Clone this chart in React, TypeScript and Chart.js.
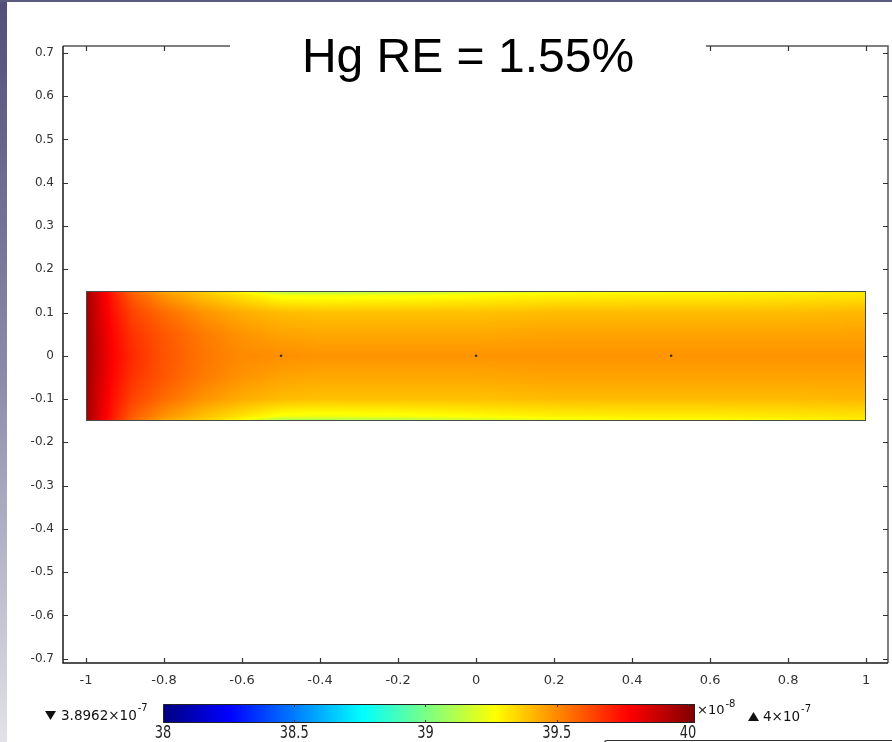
import React, { useEffect, useRef } from "react";
import { Chart, registerables } from "chart.js";

Chart.register(...registerables);

// ---------- data ----------
const titleText = "Hg RE = 1.55%";
const xTicks = [-1, -0.8, -0.6, -0.4, -0.2, 0, 0.2, 0.4, 0.6, 0.8, 1];
const yTicks = [0.7, 0.6, 0.5, 0.4, 0.3, 0.2, 0.1, 0, -0.1, -0.2, -0.3, -0.4, -0.5, -0.6, -0.7];
const xRange = [-1.059, 1.056];
const yRange = [-0.71, 0.716];

// domain rectangle
const rectX = [-1, 1];
const rectY = [-0.15, 0.15];

// sampled field (x 10^-8), rows top -> bottom
const fieldX = [-1, -0.97, -0.93, -0.88, -0.8, -0.7, -0.6, -0.5, -0.4, -0.2, 0, 0.2, 0.4, 0.6, 0.8, 1];
const fieldY = [0.15, 0.14, 0.1, 0.05, 0, -0.05, -0.1, -0.14, -0.15];
const rowP150 = [39.96, 39.84, 39.7, 39.56, 39.44, 39.36, 39.26, 39.08, 39.08, 39.1, 39.16, 39.22, 39.25, 39.26, 39.27, 39.3];
const rowP140 = [39.96, 39.85, 39.72, 39.59, 39.48, 39.39, 39.32, 39.25, 39.24, 39.25, 39.27, 39.29, 39.3, 39.3, 39.31, 39.32];
const rowP100 = [39.97, 39.86, 39.74, 39.64, 39.56, 39.48, 39.43, 39.4, 39.39, 39.39, 39.39, 39.4, 39.4, 39.4, 39.4, 39.41];
const rowP050 = [39.97, 39.87, 39.76, 39.67, 39.6, 39.53, 39.48, 39.45, 39.44, 39.44, 39.44, 39.45, 39.45, 39.45, 39.45, 39.45];
const rowZero = [39.97, 39.88, 39.77, 39.69, 39.61, 39.54, 39.5, 39.49, 39.48, 39.48, 39.48, 39.48, 39.48, 39.48, 39.48, 39.48];
const rowM050 = [39.97, 39.87, 39.76, 39.67, 39.6, 39.53, 39.48, 39.45, 39.44, 39.44, 39.44, 39.45, 39.45, 39.45, 39.45, 39.45];
const rowM100 = [39.97, 39.86, 39.74, 39.64, 39.56, 39.48, 39.43, 39.4, 39.39, 39.39, 39.39, 39.4, 39.4, 39.4, 39.4, 39.41];
const rowM140 = [39.96, 39.85, 39.72, 39.59, 39.48, 39.39, 39.32, 39.25, 39.24, 39.25, 39.27, 39.29, 39.3, 39.3, 39.31, 39.32];
const rowM150 = [39.96, 39.84, 39.7, 39.56, 39.44, 39.36, 39.26, 39.08, 39.08, 39.1, 39.16, 39.22, 39.25, 39.26, 39.27, 39.3];
const fieldRows = [rowP150, rowP140, rowP100, rowP050, rowZero, rowM050, rowM100, rowM140, rowM150];

// probe points
const pointsX = [-0.5, 0, 0.5];
const pointsY = [0, 0, 0];

// colour range
const colorMin = 38;
const colorMax = 40.027;
const colorbarTicks = [38, 38.5, 39, 39.5, 40];
const colorbarTickLabels = ["38", "38.5", "39", "39.5", "40"];
const minLabel = "3.8962\u00d710";
const minExp = "-7";
const maxLabel = "4\u00d710";
const maxExp = "-7";
const unitLabel = "\u00d710";
const unitExp = "-8";

// ---------- helpers ----------
function jet(t: number): [number, number, number] {
  const c = (v: number) => Math.max(0, Math.min(1, v));
  const r = c(1.5 - Math.abs(4 * t - 3));
  const g = c(1.5 - Math.abs(4 * t - 2));
  const b = c(1.5 - Math.abs(4 * t - 1));
  return [Math.round(r * 255), Math.round(g * 255), Math.round(b * 255)];
}

function findIdx(arr: number[], v: number, desc: boolean): [number, number] {
  const n = arr.length;
  for (let i = 0; i < n - 1; i++) {
    const a = arr[i], b = arr[i + 1];
    const inside = desc ? v <= a && v >= b : v >= a && v <= b;
    if (inside) return [i, (v - a) / (b - a)];
  }
  if (desc ? v > arr[0] : v < arr[0]) return [0, 0];
  return [n - 2, 1];
}

function sampleField(x: number, y: number): number {
  const [i, fx] = findIdx(fieldX, x, false);
  const [j, fy] = findIdx(fieldY, y, true);
  const r0 = fieldRows[j], r1 = fieldRows[j + 1];
  const a = r0[i] * (1 - fx) + r0[i + 1] * fx;
  const b = r1[i] * (1 - fx) + r1[i + 1] * fx;
  return a * (1 - fy) + b * fy;
}

const FONT = "'DejaVu Sans', Verdana, sans-serif";

const heatmapPlugin = {
  id: "heatmap",
  beforeDatasetsDraw(chart: any) {
    const { ctx } = chart;
    const xs = chart.scales.x, ys = chart.scales.y;
    const px0 = Math.round(xs.getPixelForValue(rectX[0]));
    const px1 = Math.round(xs.getPixelForValue(rectX[1]));
    const py0 = Math.round(ys.getPixelForValue(rectY[1]));
    const py1 = Math.round(ys.getPixelForValue(rectY[0]));
    const w = px1 - px0, h = py1 - py0;
    const off = document.createElement("canvas");
    off.width = w; off.height = h;
    const octx = off.getContext("2d")!;
    const img = octx.createImageData(w, h);
    for (let j = 0; j < h; j++) {
      const dy = ys.getValueForPixel(py0 + j + 0.5);
      for (let i = 0; i < w; i++) {
        const dx = xs.getValueForPixel(px0 + i + 0.5);
        const v = sampleField(dx, dy);
        const [r, g, b] = jet((v - colorMin) / (colorMax - colorMin));
        const k = (j * w + i) * 4;
        img.data[k] = r; img.data[k + 1] = g; img.data[k + 2] = b; img.data[k + 3] = 255;
      }
    }
    octx.putImageData(img, 0, 0);
    ctx.save();
    ctx.drawImage(off, px0, py0);
    ctx.strokeStyle = "#4a4a4a";
    ctx.lineWidth = 1;
    ctx.strokeRect(px0 + 0.5, py0 + 0.5, w - 1, h - 1);
    ctx.restore();
  },
};

function drawSup(ctx: CanvasRenderingContext2D, base: string, exp: string, x: number, y: number, size: number, supSize: number, rise: number) {
  ctx.font = `${size}px ${FONT}`;
  ctx.textAlign = "left";
  ctx.textBaseline = "alphabetic";
  ctx.fillText(base, x, y);
  const w = ctx.measureText(base).width;
  ctx.font = `${supSize}px ${FONT}`;
  ctx.fillText(exp, x + w + 1, y - rise);
}

const framePlugin = {
  id: "frame",
  afterDraw(chart: any) {
    const { ctx, chartArea } = chart;
    const xs = chart.scales.x, ys = chart.scales.y;
    const { left, right, top, bottom } = chartArea;
    ctx.save();
    ctx.lineWidth = 1.5;
    ctx.strokeStyle = "#555";
    ctx.beginPath();
    ctx.moveTo(left, top); ctx.lineTo(right, top); ctx.lineTo(right, bottom);
    ctx.stroke();
    ctx.strokeStyle = "#1a1a1a";
    ctx.beginPath();
    ctx.moveTo(left, top); ctx.lineTo(left, bottom); ctx.lineTo(right, bottom);
    ctx.stroke();
    ctx.lineWidth = 1.2;
    ctx.strokeStyle = "#333";
    const tl = 5;
    xTicks.forEach((v) => {
      const p = Math.round(xs.getPixelForValue(v)) + 0.5;
      ctx.beginPath();
      ctx.moveTo(p, bottom); ctx.lineTo(p, bottom - tl);
      ctx.moveTo(p, top); ctx.lineTo(p, top + tl);
      ctx.stroke();
    });
    yTicks.forEach((v) => {
      const p = Math.round(ys.getPixelForValue(v)) + 0.5;
      ctx.beginPath();
      ctx.moveTo(left, p); ctx.lineTo(left + tl, p);
      ctx.moveTo(right, p); ctx.lineTo(right - tl, p);
      ctx.stroke();
    });
    // title box
    ctx.fillStyle = "#fff";
    ctx.fillRect(230, top - 6, 476, 14);
    ctx.fillStyle = "#000";
    ctx.font = "48px 'Liberation Sans', Arial, sans-serif";
    ctx.textAlign = "center";
    ctx.textBaseline = "alphabetic";
    ctx.fillText(titleText, 468, 72);

    // colorbar
    const cbL = 163, cbR = 695, cbT = 704, cbB = 723;
    const cbPx = (v: number) => cbL + ((v - colorMin) / (colorMax - colorMin)) * (cbR - cbL);
    for (let i = cbL; i < cbR; i++) {
      const t = (i + 0.5 - cbL) / (cbR - cbL);
      const [r, g, b] = jet(t);
      ctx.fillStyle = `rgb(${r},${g},${b})`;
      ctx.fillRect(i, cbT, 1, cbB - cbT);
    }
    ctx.strokeStyle = "#222";
    ctx.lineWidth = 1;
    ctx.strokeRect(cbL + 0.5, cbT + 0.5, cbR - cbL - 1, cbB - cbT - 1);
    ctx.strokeStyle = "#333";
    colorbarTicks.forEach((v) => {
      const p = Math.round(cbPx(v)) + 0.5;
      ctx.beginPath();
      ctx.moveTo(p, cbT); ctx.lineTo(p, cbT + 3);
      ctx.moveTo(p, cbB); ctx.lineTo(p, cbB - 3);
      ctx.stroke();
    });
    ctx.fillStyle = "#222";
    ctx.font = `13px ${FONT}`;
    ctx.textAlign = "center";
    ctx.textBaseline = "alphabetic";
    colorbarTicks.forEach((v, i) => {
      ctx.save();
      ctx.translate(cbPx(v), 738);
      ctx.scale(1, 1.3);
      ctx.fillText(colorbarTickLabels[i], 0, 0);
      ctx.restore();
    });
    // min / max markers
    ctx.fillStyle = "#111";
    ctx.beginPath();
    ctx.moveTo(45, 711); ctx.lineTo(56, 711); ctx.lineTo(50.5, 720); ctx.closePath();
    ctx.fill();
    drawSup(ctx, minLabel, minExp, 61, 720, 13.5, 10, 9);
    ctx.beginPath();
    ctx.moveTo(748, 721); ctx.lineTo(759, 721); ctx.lineTo(753.5, 712); ctx.closePath();
    ctx.fill();
    drawSup(ctx, maxLabel, maxExp, 763, 721, 13.5, 10, 9);
    drawSup(ctx, unitLabel, unitExp, 697, 714, 13, 10, 7);
    ctx.restore();
  },
};

export default function App() {
  const ref = useRef<HTMLCanvasElement | null>(null);
  useEffect(() => {
    document.body.style.margin = "0";
    if (!ref.current) return;
    const chart = new Chart(ref.current, {
      type: "scatter",
      data: {
        datasets: [
          {
            data: pointsX.map((x, i) => ({ x, y: pointsY[i] })),
            pointRadius: 1.3,
            pointBackgroundColor: "#333",
            pointBorderWidth: 0,
          },
        ],
      },
      options: {
        animation: false,
        responsive: false,
        devicePixelRatio: 1,
        layout: { padding: { left: 0, right: 4, top: 46, bottom: 0 } },
        plugins: { legend: { display: false }, title: { display: false }, tooltip: { enabled: false } },
        scales: {
          x: {
            type: "linear",
            min: xRange[0],
            max: xRange[1],
            grid: { display: false, drawTicks: false },
            border: { display: false },
            afterBuildTicks: (s: any) => { s.ticks = xTicks.map((v) => ({ value: v })); },
            afterFit: (s: any) => { s.height = 79; },
            ticks: { color: "#333", font: { family: FONT, size: 13 }, padding: 10, maxRotation: 0, autoSkip: false, callback: (v: any) => String(v) },
          },
          y: {
            type: "linear",
            min: yRange[0],
            max: yRange[1],
            grid: { display: false, drawTicks: false },
            border: { display: false },
            afterBuildTicks: (s: any) => { s.ticks = yTicks.map((v) => ({ value: v })); },
            afterFit: (s: any) => { s.width = 63; },
            ticks: { color: "#333", font: { family: FONT, size: 12 }, padding: 9, autoSkip: false, callback: (v: any) => String(v) },
          },
        },
      },
      plugins: [heatmapPlugin, framePlugin],
    });
    return () => chart.destroy();
  }, []);
  return (
    <div style={{ position: "fixed", left: 0, top: 0, width: 892, height: 742, background: "#fff", overflow: "hidden" }}>
      <canvas ref={ref} width={892} height={742} style={{ position: "absolute", left: 0, top: 0 }} />
      <div style={{ position: "absolute", left: 0, top: 0, width: 7, height: 742, background: "linear-gradient(#4f4f78, #8a8aa8 50%, #e2e2e8)" }} />
      <div style={{ position: "absolute", left: 0, top: 0, width: 892, height: 2, background: "#5c5c80" }} />
      <div style={{ position: "absolute", left: 604, top: 740, width: 300, height: 10, borderTop: "1px solid #333", borderLeft: "1px solid #333", borderTopLeftRadius: 3 }} />
    </div>
  );
}
